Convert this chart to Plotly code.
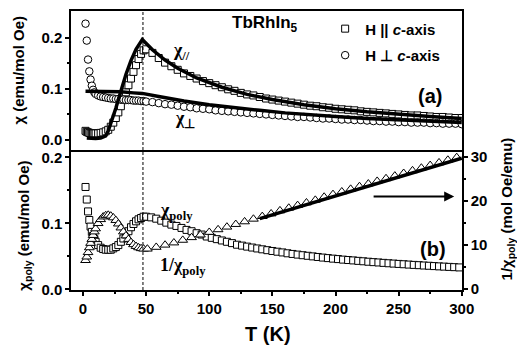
import plotly.graph_objects as go

# ---------------- data ----------------
# panel (a): single crystal susceptibility
T_a = [2, 3, 4, 5, 6, 7, 8, 9, 10, 12, 14, 16, 18, 20, 22, 24, 26, 28, 30, 32, 34, 36, 38, 40,
       42, 44, 46, 48, 50, 55, 60, 65, 70, 75, 80, 85, 90, 95, 100, 105, 110, 115, 120, 125,
       130, 135, 140, 145, 150, 155, 160, 165, 170, 175, 180, 185, 190, 195, 200, 205, 210,
       215, 220, 225, 230, 235, 240, 245, 250, 255, 260, 265, 270, 275, 280, 285, 290, 295, 300]
chi_par = [0.018, 0.016, 0.015, 0.014, 0.013, 0.013, 0.013, 0.013, 0.013, 0.013, 0.014, 0.015,
           0.017, 0.020, 0.026, 0.034, 0.043, 0.054, 0.066, 0.079, 0.093, 0.107, 0.120, 0.133,
           0.146, 0.158, 0.168, 0.175, 0.177, 0.170, 0.160, 0.151, 0.144, 0.137, 0.130, 0.125,
           0.120, 0.115, 0.111, 0.107, 0.103, 0.099, 0.096, 0.092, 0.089, 0.087, 0.084, 0.081,
           0.079, 0.077, 0.075, 0.073, 0.071, 0.069, 0.067, 0.066, 0.064, 0.063, 0.061, 0.060,
           0.059, 0.058, 0.056, 0.055, 0.054, 0.053, 0.052, 0.051, 0.050, 0.049, 0.048, 0.048,
           0.047, 0.046, 0.045, 0.045, 0.044, 0.043, 0.043]
chi_perp = [0.227, 0.194, 0.157, 0.134, 0.118, 0.106, 0.098, 0.093, 0.090, 0.087, 0.085, 0.084,
            0.083, 0.082, 0.081, 0.081, 0.080, 0.080, 0.079, 0.079, 0.078, 0.078, 0.078, 0.077,
            0.077, 0.077, 0.076, 0.076, 0.075, 0.074, 0.072, 0.070, 0.069, 0.067, 0.065, 0.064,
            0.062, 0.061, 0.060, 0.058, 0.057, 0.056, 0.055, 0.054, 0.053, 0.052, 0.051, 0.050,
            0.049, 0.048, 0.047, 0.046, 0.045, 0.045, 0.044, 0.043, 0.042, 0.042, 0.041, 0.040,
            0.040, 0.039, 0.039, 0.038, 0.037, 0.037, 0.036, 0.036, 0.035, 0.035, 0.034, 0.034,
            0.034, 0.033, 0.033, 0.032, 0.032, 0.032, 0.031]

# CEF fit curves (panel a)
T_fit_par = [3, 6, 10, 14, 18, 20, 22, 26, 30, 34, 38, 42, 47, 55, 65, 75, 90, 110, 130, 150,
             175, 200, 225, 250, 275, 300]
fit_par = [0.004, 0.003, 0.003, 0.004, 0.008, 0.018, 0.032, 0.062, 0.095, 0.128, 0.155, 0.177,
           0.196, 0.176, 0.156, 0.140, 0.121, 0.103, 0.089, 0.079, 0.069, 0.061, 0.055, 0.050,
           0.046, 0.042]
T_fit_perp = [2, 10, 20, 30, 40, 47, 60, 80, 100, 120, 140, 160, 180, 200, 225, 250, 275, 300]
fit_perp = [0.095, 0.095, 0.095, 0.094, 0.092, 0.091, 0.085, 0.076, 0.069, 0.063, 0.058, 0.053,
            0.049, 0.046, 0.042, 0.039, 0.036, 0.034]

# panel (b): polycrystalline average
T_poly = [2, 3, 4, 5, 6, 7, 8, 9, 10, 12, 14, 16, 18, 20, 22, 24, 26, 28, 30, 32, 34, 36, 38,
          40, 42, 44, 46, 48, 50, 54, 58, 62, 66, 70, 74, 78, 82, 86, 90, 94, 98, 102, 106, 110,
          114, 118, 122, 126, 130, 134, 138, 142, 146, 150, 154, 158, 162, 166, 170, 174, 178,
          182, 186, 190, 194, 198, 202, 206, 210, 214, 218, 222, 226, 230, 234, 238, 242, 246,
          250, 254, 258, 262, 266, 270, 274, 278, 282, 286, 290, 294, 298]
chi_poly = [0.155, 0.136, 0.118, 0.105, 0.095, 0.087, 0.081, 0.076, 0.072, 0.067, 0.063, 0.061,
            0.060, 0.060, 0.060, 0.062, 0.064, 0.067, 0.072, 0.077, 0.083, 0.088, 0.094, 0.099,
            0.103, 0.106, 0.108, 0.110, 0.110, 0.109, 0.107, 0.104, 0.101, 0.098, 0.096, 0.093,
            0.090, 0.088, 0.085, 0.083, 0.080, 0.078, 0.076, 0.074, 0.072, 0.070, 0.0676, 0.0662,
            0.0647, 0.0633, 0.0619, 0.0606, 0.0593, 0.0581, 0.057, 0.0559, 0.0546, 0.0536,
            0.0526, 0.0517, 0.0508, 0.0499, 0.049, 0.0481, 0.0473, 0.0465, 0.0458, 0.045,
            0.0444, 0.0438, 0.0431, 0.0425, 0.0418, 0.0412, 0.0407, 0.0401, 0.0395, 0.039,
            0.0385, 0.038, 0.0375, 0.037, 0.0366, 0.0361, 0.0357, 0.0352, 0.0348, 0.0344,
            0.034, 0.0336, 0.0332]

T_inv = [2, 3, 4, 5, 6, 7, 8, 9, 10, 12, 14, 16, 18, 20, 22, 24, 26, 28, 30, 32, 34, 36, 38,
         40, 42, 44, 46, 48, 51, 58, 65, 72, 79, 86, 93, 100, 107, 114, 121, 128, 135, 142, 149,
         156, 163, 170, 177, 184, 191, 198, 205, 212, 219, 226, 233, 240, 247, 254, 261, 268,
         275, 282, 289, 296]
inv_chi_poly = [6.5, 7.3, 8.3, 9.4, 10.4, 11.3, 12.2, 13.0, 13.7, 14.9, 15.8, 16.4, 16.7, 16.8,
                16.6, 16.2, 15.6, 14.8, 13.9, 13.0, 12.1, 11.3, 10.6, 10.1, 9.7, 9.4, 9.2, 9.1,
                9.1, 9.5, 10.0, 10.5, 11.1, 11.7, 12.3, 12.9, 13.5, 14.1, 14.7, 15.3, 15.9,
                16.5, 17.1, 17.8, 18.4, 19.0, 19.6, 20.2, 20.9, 21.5, 22.1, 22.7, 23.3, 23.9,
                24.5, 25.1, 25.7, 26.3, 26.9, 27.5, 28.1, 28.7, 29.3, 29.9]

T_cw = [140, 300]
cw_fit = [16.0, 29.7]

T_N = [47.5]
x_ticks = [0, 50, 100, 150, 200, 250, 300]
chi_ticks = [0.0, 0.1, 0.2]
inv_ticks = [0, 10, 20, 30]

# ---------------- figure ----------------
BLACK = "black"
fig = go.Figure()

mk = dict(color="white", line=dict(color=BLACK, width=1))

fig.add_trace(go.Scatter(x=T_a, y=chi_par, mode="markers", xaxis="x2", yaxis="y2",
                         name="<b>H || <i>c</i>-axis</b>", legendgroup="g1",
                         marker=dict(symbol="square", size=7, **mk)))
fig.add_trace(go.Scatter(x=T_a, y=chi_perp, mode="markers", xaxis="x2", yaxis="y2",
                         name="<b>H \u22a5 <i>c</i>-axis</b>", legendgroup="g2",
                         marker=dict(symbol="circle", size=7.5, **mk)))
fig.add_trace(go.Scatter(x=T_fit_par, y=fit_par, mode="lines", xaxis="x2", yaxis="y2",
                         showlegend=False, line=dict(color=BLACK, width=3.5)))
fig.add_trace(go.Scatter(x=T_fit_perp, y=fit_perp, mode="lines", xaxis="x2", yaxis="y2",
                         showlegend=False, line=dict(color=BLACK, width=3.5)))

fig.add_trace(go.Scatter(x=T_poly, y=chi_poly, mode="markers", xaxis="x", yaxis="y",
                         showlegend=False, marker=dict(symbol="square", size=7, **mk)))
fig.add_trace(go.Scatter(x=T_inv, y=inv_chi_poly, mode="markers", xaxis="x", yaxis="y3",
                         showlegend=False, marker=dict(symbol="triangle-up", size=8.5, **mk)))
fig.add_trace(go.Scatter(x=T_cw, y=cw_fit, mode="lines", xaxis="x", yaxis="y3",
                         showlegend=False, line=dict(color=BLACK, width=3.5)))

SANS = "Liberation Sans, Arial, sans-serif"
SERIF = "Liberation Serif, Times New Roman, serif"
tickfont = dict(family=SANS, size=15, color=BLACK, weight="bold")
ax_common = dict(showgrid=False, zeroline=False, showline=True, linecolor=BLACK, linewidth=1.5,
                 ticks="outside", ticklen=4, tickwidth=1.5, tickcolor=BLACK, tickfont=tickfont)

D = 141 / 281
fig.update_layout(
    width=517, height=353,
    margin=dict(l=71, r=55, t=9, b=63),
    paper_bgcolor="white", plot_bgcolor="white",
    font=dict(family=SANS, color=BLACK),
    xaxis=dict(domain=[0, 1], anchor="y", range=[-9.5, 300.2], tickmode="array",
               tickvals=x_ticks, minor=dict(tickvals=[25, 75, 125, 175, 225, 275], ticklen=2.5,
                                            tickwidth=1.5, ticks="outside", tickcolor=BLACK),
               **ax_common),
    xaxis2=dict(domain=[0, 1], anchor="y2", matches="x", showticklabels=False, showgrid=False,
                zeroline=False, showline=True, linecolor=BLACK, linewidth=1.5, mirror=True,
                ticks=""),
    yaxis=dict(domain=[0, D], anchor="x", range=[-0.001, 0.211], tickmode="array",
               tickvals=chi_ticks, ticktext=["0.0", "0.1", "0.2"],
               minor=dict(tickvals=[0.05, 0.15], ticklen=2.5, tickwidth=1.5, ticks="outside",
                          tickcolor=BLACK),
               **ax_common),
    yaxis2=dict(domain=[D, 1], anchor="x2", range=[-0.0194, 0.2517], tickmode="array",
                tickvals=chi_ticks, ticktext=["0.0", "0.1", "0.2"], mirror=True,
                minor=dict(tickvals=[0.05, 0.15], ticklen=2.5, tickwidth=1.5, ticks="outside",
                           tickcolor=BLACK),
                **ax_common),
    yaxis3=dict(overlaying="y", side="right", anchor="x", range=[-0.23, 31.58],
                tickmode="array", tickvals=inv_ticks,
                minor=dict(tickvals=[5, 15, 25], ticklen=2.5, tickwidth=1.5, ticks="outside",
                           tickcolor=BLACK),
                **ax_common),
    legend=dict(x=0.65, y=0.995, xanchor="left", yanchor="top", bgcolor="rgba(0,0,0,0)",
                font=dict(family=SANS, size=15, color=BLACK), itemwidth=30,
                tracegroupgap=4),
    showlegend=True,
)

# dashed vertical line at the transition
fig.add_shape(type="line", xref="x", yref="paper", x0=T_N[0], x1=T_N[0], y0=0, y1=1,
              line=dict(color=BLACK, width=1, dash="3px,2px"))

C = dict(xanchor="center", yanchor="middle", showarrow=False)
ann = []
# axis titles
ann.append(dict(text="<b>T (K)</b>", xref="paper", yref="paper", x=0.504, y=-0.157,
                font=dict(family=SANS, size=20, color=BLACK), **C))
ann.append(dict(text="<b>\u03c7 (emu/mol Oe)</b>", xref="paper", yref="paper", x=-0.133, y=0.79,
                textangle=-90, font=dict(family=SANS, size=15, color=BLACK), **C))
ann.append(dict(text="<b>\u03c7<sub>poly</sub> (emu/mol Oe)</b>", xref="paper", yref="paper",
                x=-0.12, y=0.231, textangle=-90,
                font=dict(family=SANS, size=15, color=BLACK), **C))
ann.append(dict(text="<b>1/\u03c7<sub>poly</sub> (mol Oe/emu)</b>", xref="paper", yref="paper",
                x=1.116, y=0.29, textangle=-90,
                font=dict(family=SANS, size=15, color=BLACK), **C))
# in-plot labels
ann.append(dict(text="<b>TbRhIn<sub>5</sub></b>", xref="x2", yref="y2", x=144.5, y=0.2265,
                font=dict(family=SANS, size=17, color=BLACK), **C))
ann.append(dict(text="<b>(a)</b>", xref="x2", yref="y2", x=275, y=0.085,
                font=dict(family=SANS, size=20, color=BLACK), **C))
ann.append(dict(text="<b>(b)</b>", xref="x", yref="y3", x=277, y=9.0,
                font=dict(family=SANS, size=20, color=BLACK), **C))
ann.append(dict(text="<b>\u03c7<sub>//</sub></b>", xref="x2", yref="y2", x=78, y=0.173,
                font=dict(family=SERIF, size=18, color=BLACK), **C))
ann.append(dict(text="<b>\u03c7<sub>\u22a5</sub></b>", xref="x2", yref="y2", x=80.5, y=0.041,
                font=dict(family=SERIF, size=18, color=BLACK), **C))
ann.append(dict(text="<b>\u03c7<sub>poly</sub></b>", xref="x", yref="y3", x=74, y=17.6,
                font=dict(family=SERIF, size=18, color=BLACK), **C))
ann.append(dict(text="<b>1/\u03c7<sub>poly</sub></b>", xref="x", yref="y3", x=79, y=5.2,
                font=dict(family=SERIF, size=18, color=BLACK), **C))
# arrow pointing to right axis
ann.append(dict(text="", xref="x", yref="y3", x=294, y=21, axref="x", ayref="y3", ax=229, ay=21,
                showarrow=True, arrowhead=2, arrowsize=1, arrowwidth=2, arrowcolor=BLACK))
fig.update_layout(annotations=ann)

fig.write_html("out.html")
